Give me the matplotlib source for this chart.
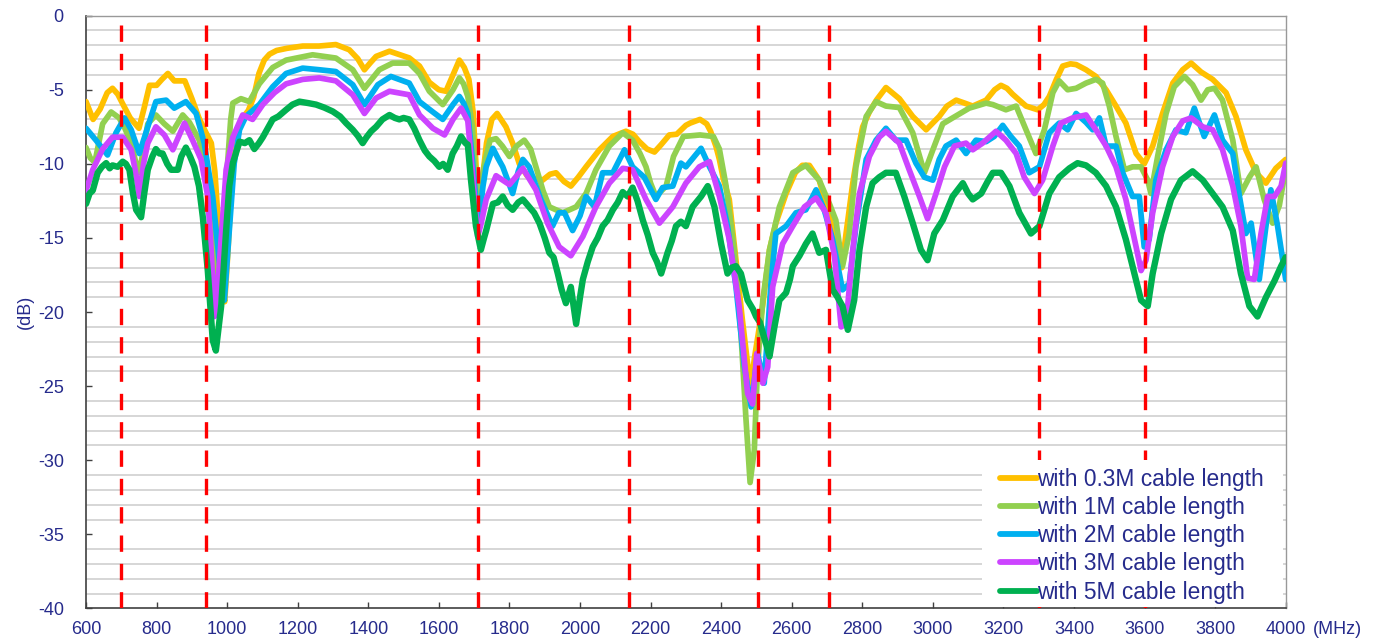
"""Return loss vs frequency for several cable lengths."""

import matplotlib

matplotlib.use("Agg")
import matplotlib.pyplot as plt
from matplotlib.patches import Rectangle

plt.rcParams["font.family"] = ["Liberation Sans", "DejaVu Sans"]
plt.rcParams["axes.unicode_minus"] = False

TEXT_COLOR = "#262B8C"

# band edges marked with red dashed lines (MHz)
BAND_EDGES = [698, 940, 1710, 2140, 2505, 2705, 3300, 3600]

LABELS = [
    "with 0.3M cable length",
    "with 1M cable length",
    "with 2M cable length",
    "with 3M cable length",
    "with 5M cable length",
]
COLORS = ["#FFC000", "#92D050", "#00B0F0", "#CC44FF", "#00B050"]

# 0.3 m cable
F_03 = [600, 620, 640, 660, 675, 690, 705, 725, 750, 765, 780, 800, 815, 832, 850, 880, 900, 920, 940, 955,
        965, 975, 985, 993, 1002, 1012, 1022, 1040, 1060, 1075, 1090, 1105, 1120, 1140, 1170, 1214, 1260, 1308,
        1346, 1370, 1389, 1405, 1422, 1460, 1516, 1545, 1573, 1600, 1620, 1640, 1658, 1672, 1685, 1697, 1705,
        1712, 1721, 1735, 1750, 1765, 1790, 1809, 1828, 1850, 1875, 1894, 1915, 1932, 1955, 1974, 1995, 2017,
        2055, 2093, 2130, 2150, 2168, 2190, 2211, 2230, 2253, 2274, 2300, 2312, 2340, 2359, 2370, 2385, 2395,
        2406, 2423, 2442, 2460, 2475, 2485, 2495, 2505, 2518, 2537, 2555, 2584, 2610, 2630, 2650, 2678, 2700,
        2715, 2730, 2742, 2754, 2773, 2790, 2801, 2820, 2840, 2867, 2905, 2943, 2981, 3018, 3040, 3066, 3090,
        3113, 3151, 3175, 3193, 3210, 3226, 3264, 3297, 3315, 3330, 3350, 3368, 3390, 3406, 3434, 3462, 3491,
        3519, 3547, 3576, 3599, 3623, 3651, 3680, 3708, 3732, 3760, 3793, 3831, 3859, 3887, 3916, 3944, 3972,
        4000]
DB_03 = [-5.8, -7.0, -6.3, -5.2, -4.9, -5.3, -6.0, -6.9, -7.6, -6.2, -4.7, -4.7, -4.3, -3.9, -4.4, -4.4, -5.6,
         -6.9, -7.9, -8.6, -10.5, -14.0, -18.5, -19.3, -16.0, -11.5, -8.8, -7.0, -6.4, -5.5, -3.9, -3.0, -2.6,
         -2.35, -2.2, -2.05, -2.05, -1.95, -2.3, -2.9, -3.65, -3.2, -2.75, -2.4, -2.85, -3.4, -4.5, -5.0, -5.1,
         -4.0, -3.0, -3.5, -4.3, -6.5, -10.0, -13.0, -11.5, -8.6, -7.0, -6.6, -7.5, -8.6, -10.0, -10.8, -11.0,
         -11.1, -10.7, -10.6, -11.2, -11.5, -10.9, -10.2, -9.05, -8.15, -7.8, -8.0, -8.5, -9.0, -9.2, -8.7,
         -8.05, -8.0, -7.4, -7.25, -7.0, -7.3, -7.8, -8.8, -9.7, -11.0, -12.4, -16.5, -20.5, -23.5, -24.8,
         -23.0, -21.5, -19.5, -15.8, -14.0, -12.0, -10.6, -10.1, -10.1, -11.1, -13.0, -14.3, -16.0, -17.0,
         -14.7, -11.3, -8.8, -7.5, -6.5, -5.7, -4.85, -5.6, -6.8, -7.7, -6.8, -6.1, -5.7, -5.9, -6.1, -5.7,
         -5.0, -4.7, -4.9, -5.3, -6.1, -6.35, -6.0, -5.45, -4.3, -3.4, -3.25, -3.3, -3.65, -4.1, -5.0, -6.1,
         -7.25, -9.3, -10.0, -8.8, -6.6, -4.55, -3.65, -3.2, -3.8, -4.3, -5.2, -6.8, -9.05, -10.6, -11.3,
         -10.3, -9.7]

# 1 m cable
F_1 = [600, 612, 625, 647, 671, 694, 710, 728, 740, 751, 763, 775, 798, 822, 846, 874, 893, 921, 940, 959,
       973, 982, 992, 1001, 1010, 1016, 1039, 1063, 1091, 1129, 1167, 1242, 1308, 1356, 1389, 1431, 1469, 1516,
       1545, 1573, 1611, 1640, 1658, 1670, 1682, 1695, 1703, 1712, 1722, 1734, 1745, 1762, 1780, 1800, 1820,
       1842, 1860, 1875, 1895, 1913, 1951, 1989, 2017, 2045, 2083, 2121, 2149, 2170, 2187, 2200, 2215, 2244,
       2265, 2293, 2340, 2378, 2395, 2414, 2437, 2456, 2470, 2482, 2494, 2503, 2518, 2537, 2565, 2603, 2640,
       2678, 2707, 2725, 2744, 2763, 2782, 2811, 2839, 2867, 2905, 2943, 2976, 3000, 3028, 3056, 3103, 3151,
       3170, 3207, 3236, 3264, 3292, 3316, 3340, 3358, 3382, 3406, 3434, 3462, 3481, 3500, 3519, 3543, 3566,
       3590, 3609, 3618, 3637, 3661, 3684, 3713, 3736, 3760, 3779, 3798, 3821, 3850, 3873, 3897, 3916, 3939,
       3963, 3982, 4000]
DB_1 = [-8.9, -9.6, -9.9, -7.3, -6.5, -6.9, -7.6, -8.6, -9.8, -10.6, -9.0, -7.3, -6.7, -7.3, -7.8, -6.7, -7.2,
        -8.4, -10.6, -14.5, -18.0, -18.8, -14.0, -10.0, -7.0, -5.9, -5.6, -5.8, -4.6, -3.5, -3.0, -2.64, -2.86,
        -3.65, -4.9, -3.65, -3.2, -3.2, -3.9, -5.1, -6.0, -5.0, -4.2, -4.6, -5.45, -7.5, -10.5, -13.5, -11.0,
        -9.5, -8.4, -8.3, -8.8, -9.5, -8.8, -8.4, -9.0, -10.2, -11.8, -12.9, -13.3, -12.9, -12.0, -10.4, -8.8,
        -7.9, -8.4, -9.3, -10.2, -11.3, -12.2, -11.5, -9.5, -8.15, -8.05, -8.15, -9.0, -11.5, -15.8, -21.4,
        -27.1, -31.5, -29.3, -23.7, -19.2, -15.8, -12.9, -10.6, -10.1, -11.1, -12.7, -13.8, -16.9, -14.7,
        -10.2, -6.8, -5.8, -6.1, -6.2, -7.9, -10.6, -9.05, -7.3, -6.9, -6.24, -5.9, -6.0, -6.35, -6.1, -7.7,
        -9.3, -7.7, -5.2, -4.4, -5.0, -4.9, -4.55, -4.3, -4.55, -6.1, -8.15, -10.4, -10.2, -10.2, -11.1, -12.0,
        -9.5, -6.6, -4.8, -4.1, -4.66, -5.7, -5.0, -4.9, -5.7, -8.4, -12.0, -10.9, -10.2, -12.4, -14.0, -12.8,
        -10.3]

# 2 m cable
F_2 = [600, 628, 661, 685, 709, 728, 751, 775, 798, 827, 850, 883, 912, 935, 959, 978, 992, 1006, 1020, 1035,
       1053, 1091, 1129, 1167, 1214, 1261, 1308, 1356, 1389, 1427, 1464, 1516, 1545, 1583, 1611, 1640, 1658,
       1670, 1682, 1696, 1705, 1713, 1725, 1734, 1753, 1767, 1781, 1809, 1825, 1838, 1856, 1889, 1922, 1940,
       1956, 1979, 2000, 2017, 2041, 2064, 2093, 2126, 2149, 2182, 2215, 2234, 2263, 2286, 2300, 2324, 2343,
       2367, 2395, 2418, 2442, 2466, 2485, 2503, 2522, 2541, 2555, 2584, 2612, 2640, 2669, 2692, 2716, 2744,
       2763, 2782, 2811, 2839, 2867, 2895, 2924, 2952, 2976, 3000, 3018, 3037, 3066, 3094, 3122, 3151, 3174,
       3198, 3221, 3245, 3273, 3302, 3330, 3358, 3382, 3406, 3434, 3453, 3472, 3491, 3519, 3538, 3566, 3585,
       3599, 3613, 3632, 3661, 3689, 3717, 3741, 3769, 3798, 3821, 3850, 3869, 3887, 3902, 3925, 3944, 3958,
       3977, 4000]
DB_2 = [-7.6, -8.4, -9.4, -7.9, -6.9, -7.7, -9.3, -7.5, -5.8, -5.7, -6.24, -5.8, -6.6, -8.6, -12.2, -16.7,
        -19.2, -14.5, -9.95, -7.7, -6.8, -6.0, -4.8, -3.9, -3.54, -3.65, -3.77, -4.66, -6.0, -4.66, -4.1,
        -4.55, -5.8, -6.5, -7.0, -6.0, -5.45, -5.9, -6.6, -9.95, -12.5, -14.0, -11.5, -10.2, -8.95, -9.6,
        -10.2, -12.0, -10.5, -9.7, -10.2, -12.4, -14.2, -13.3, -13.3, -14.5, -13.5, -12.2, -12.9, -10.6, -10.6,
        -9.05, -10.2, -10.9, -12.4, -11.6, -11.5, -9.95, -10.2, -9.5, -8.95, -10.2, -11.5, -14.2, -18.3, -23.7,
        -26.4, -22.8, -24.8, -18.1, -14.7, -14.2, -13.3, -13.1, -11.75, -13.1, -15.1, -18.5, -18.1, -14.2,
        -9.7, -8.4, -7.6, -8.4, -8.4, -9.95, -10.9, -11.1, -9.7, -8.8, -8.4, -9.3, -8.4, -8.5, -8.15, -7.4,
        -8.15, -8.8, -10.6, -10.2, -7.9, -7.25, -7.7, -6.6, -7.2, -7.7, -6.9, -8.8, -8.8, -10.6, -12.2, -12.2,
        -15.6, -15.1, -11.1, -9.05, -7.7, -7.9, -6.24, -8.15, -6.7, -8.4, -9.3, -12.2, -14.7, -14.0, -17.8,
        -14.2, -11.75, -14.2, -17.8]

# 3 m cable
F_3 = [600, 619, 647, 675, 704, 728, 740, 751, 763, 775, 798, 822, 846, 879, 902, 926, 945, 955, 964, 978,
       997, 1016, 1044, 1072, 1101, 1134, 1167, 1214, 1261, 1308, 1356, 1389, 1422, 1460, 1516, 1545, 1583,
       1616, 1640, 1663, 1682, 1701, 1710, 1720, 1734, 1762, 1800, 1838, 1875, 1908, 1941, 1974, 2008, 2045,
       2083, 2121, 2149, 2187, 2225, 2263, 2300, 2338, 2367, 2395, 2423, 2451, 2475, 2489, 2501, 2518, 2532,
       2546, 2574, 2603, 2636, 2669, 2697, 2721, 2740, 2754, 2773, 2792, 2820, 2848, 2867, 2905, 2933, 2962,
       2985, 3009, 3033, 3061, 3094, 3113, 3141, 3179, 3207, 3236, 3259, 3288, 3311, 3340, 3363, 3396, 3434,
       3462, 3491, 3519, 3547, 3576, 3590, 3604, 3623, 3651, 3680, 3708, 3732, 3765, 3793, 3821, 3850, 3873,
       3892, 3911, 3930, 3949, 3968, 3987, 4000]
DB_3 = [-11.8, -10.4, -9.0, -8.2, -8.2, -9.05, -10.5, -12.2, -10.0, -8.6, -7.5, -8.05, -9.05, -7.25, -8.4,
        -9.7, -12.2, -16.0, -20.3, -16.7, -10.4, -8.2, -6.7, -7.0, -6.0, -5.2, -4.6, -4.3, -4.2, -4.4, -5.34,
        -6.6, -5.56, -5.1, -5.34, -6.7, -7.6, -8.05, -7.0, -6.24, -7.1, -12.2, -14.9, -14.0, -12.4, -10.8,
        -11.4, -10.3, -11.75, -14.0, -15.6, -16.2, -14.9, -12.9, -11.3, -10.3, -10.4, -12.4, -14.0, -12.9,
        -11.3, -10.2, -9.85, -12.2, -15.1, -19.6, -25.5, -26.2, -22.8, -24.8, -23.7, -18.3, -15.4, -14.2,
        -12.9, -12.3, -13.3, -16.2, -21.0, -20.8, -15.8, -12.0, -9.5, -8.2, -7.8, -8.6, -10.4, -12.2, -13.7,
        -12.0, -10.2, -8.8, -8.6, -9.05, -8.6, -7.8, -8.4, -9.3, -10.9, -12.0, -11.1, -8.8, -7.25, -6.9, -6.7,
        -7.7, -8.8, -10.2, -12.4, -15.6, -17.2, -16.5, -13.3, -10.2, -8.15, -7.1, -6.9, -7.5, -7.7, -9.05,
        -11.5, -14.2, -17.7, -17.8, -14.7, -12.2, -12.2, -11.5, -9.95]

# 5 m cable
F_5 = [600, 610, 619, 633, 645, 657, 667, 675, 690, 704, 713, 723, 733, 742, 756, 765, 775, 788, 798, 808,
       817, 830, 841, 860, 870, 883, 895, 907, 920, 931, 945, 959, 968, 983, 997, 1006, 1016, 1035, 1050,
       1063, 1077, 1090, 1101, 1115, 1129, 1145, 1167, 1185, 1205, 1230, 1252, 1275, 1299, 1320, 1337, 1356,
       1370, 1384, 1395, 1408, 1422, 1440, 1460, 1475, 1488, 1500, 1516, 1530, 1545, 1560, 1573, 1587, 1601,
       1612, 1625, 1639, 1651, 1663, 1675, 1682, 1691, 1705, 1719, 1728, 1734, 1753, 1767, 1781, 1795, 1809,
       1825, 1838, 1856, 1870, 1885, 1900, 1913, 1925, 1937, 1948, 1960, 1974, 1989, 2000, 2008, 2022, 2036,
       2050, 2064, 2078, 2093, 2107, 2121, 2135, 2149, 2163, 2178, 2192, 2206, 2218, 2230, 2248, 2260, 2272,
       2286, 2300, 2319, 2343, 2362, 2381, 2400, 2418, 2430, 2442, 2456, 2475, 2490, 2499, 2510, 2518, 2528,
       2537, 2551, 2565, 2584, 2595, 2603, 2622, 2640, 2659, 2678, 2697, 2716, 2730, 2744, 2759, 2777, 2792,
       2811, 2829, 2848, 2867, 2895, 2919, 2943, 2966, 2985, 3004, 3028, 3056, 3085, 3100, 3113, 3137, 3155,
       3170, 3193, 3217, 3245, 3278, 3302, 3330, 3358, 3387, 3410, 3434, 3462, 3491, 3519, 3547, 3571, 3590,
       3609, 3623, 3647, 3675, 3703, 3736, 3765, 3793, 3821, 3850, 3873, 3897, 3920, 3944, 3968, 3987, 4000]
DB_5 = [-12.7, -12.0, -11.8, -10.6, -10.2, -9.95, -10.3, -10.1, -10.2, -9.85, -10.0, -10.4, -12.0, -13.1,
        -13.6, -12.0, -10.4, -9.5, -9.0, -9.3, -9.3, -10.0, -10.4, -10.4, -9.5, -8.9, -9.5, -10.2, -11.5,
        -13.6, -17.2, -21.9, -22.6, -19.6, -14.5, -11.5, -9.95, -8.5, -8.6, -8.4, -9.0, -8.6, -8.2, -7.6,
        -7.0, -6.8, -6.35, -6.0, -5.8, -5.9, -6.0, -6.2, -6.46, -6.8, -7.25, -7.7, -8.1, -8.6, -8.2, -7.8,
        -7.5, -7.0, -6.7, -6.9, -7.0, -6.9, -7.0, -7.6, -8.4, -9.1, -9.5, -9.8, -10.2, -10.0, -10.4, -9.3,
        -8.8, -8.15, -8.6, -8.7, -11.1, -14.2, -15.8, -15.0, -14.5, -12.7, -12.6, -12.2, -12.8, -13.1, -12.6,
        -12.4, -12.9, -13.3, -14.0, -15.0, -16.0, -16.3, -17.4, -18.5, -19.4, -18.3, -20.8, -19.0, -17.8,
        -16.6, -15.6, -15.0, -14.2, -13.8, -13.1, -12.6, -11.9, -12.2, -11.6, -12.5, -13.8, -14.8, -16.0,
        -16.6, -17.4, -16.0, -15.2, -14.2, -13.9, -14.2, -12.9, -12.2, -11.5, -12.9, -15.4, -17.4, -17.0,
        -16.9, -17.4, -19.2, -19.8, -20.3, -20.7, -21.4, -22.2, -23.0, -21.0, -19.2, -18.7, -17.8, -16.9,
        -16.2, -15.4, -14.7, -16.0, -15.8, -18.5, -19.0, -19.6, -21.2, -19.2, -15.8, -12.9, -11.3, -10.9,
        -10.6, -10.6, -12.2, -14.0, -15.8, -16.5, -14.7, -13.8, -12.2, -11.3, -12.0, -12.4, -12.0, -11.2,
        -10.6, -10.6, -11.5, -13.3, -14.7, -14.2, -12.0, -10.9, -10.3, -9.95, -10.1, -10.6, -11.5, -12.9,
        -15.1, -17.4, -19.2, -19.6, -17.4, -14.7, -12.4, -11.1, -10.5, -11.1, -12.0, -12.9, -14.5, -17.4,
        -19.6, -20.3, -19.0, -17.9, -16.9, -16.3]

X_TICKS = list(range(600, 4001, 200))
Y_TICKS = list(range(-40, 1, 5))


def main() -> None:
    fig = plt.figure(figsize=(13.81, 6.42), dpi=100)
    ax = fig.add_axes([0.0623, 0.0522, 0.8687, 0.9234])

    series = [(F_03, DB_03), (F_1, DB_1), (F_2, DB_2), (F_3, DB_3), (F_5, DB_5)]
    for (freq, db), label, color in zip(series, LABELS, COLORS):
        lw = 4.6 if color == "#00B050" else 4.1
        ax.plot(freq, db, color=color, lw=lw, label=label,
                solid_joinstyle="round", solid_capstyle="round", zorder=3)

    for f in BAND_EDGES:
        ax.plot([f, f], [-40, -0.4], color="#FF0000", lw=2.4,
                linestyle=(0, (4.9, 3.6)), zorder=4)

    ax.set_xlim(600, 4000)
    ax.set_ylim(-40, 0)
    ax.set_xticks(X_TICKS)
    ax.set_yticks(Y_TICKS)
    ax.set_xticks(range(600, 4001, 200), minor=True)
    ax.set_yticks(range(-40, 1, 1), minor=True)
    ax.grid(which="minor", color="#CFCFCF", lw=1.2, zorder=0)
    ax.set_axisbelow(True)

    ax.tick_params(which="major", direction="in", length=4, width=1, color="#404040",
                   labelsize=13, labelcolor=TEXT_COLOR)
    ax.tick_params(axis="y", which="major", pad=16)
    ax.tick_params(axis="x", which="major", pad=9)
    ax.tick_params(which="minor", length=0)

    for side in ("left", "bottom"):
        ax.spines[side].set_color("#404040")
        ax.spines[side].set_linewidth(1.2)
    for side in ("top", "right"):
        ax.spines[side].set_color("#999999")
        ax.spines[side].set_linewidth(1.0)

    ax.set_ylabel("(dB)", fontsize=13, color=TEXT_COLOR, labelpad=3)
    fig.text(1313 / 1381, 1 - 629 / 642, "(MHz)", fontsize=13, color=TEXT_COLOR,
             ha="left", va="center")

    # white panel behind the legend, hiding grid and band-edge lines
    ax.add_patch(Rectangle((0.7469, 0.0025), 0.2508, 0.248, transform=ax.transAxes,
                           facecolor="white", edgecolor="none", zorder=5))

    leg = ax.legend(loc="upper left", bbox_to_anchor=(0.7618, 0.2375), borderaxespad=0,
                    fontsize=16.4, handlelength=1.62, handletextpad=0.0, labelspacing=0.23,
                    borderpad=0, frameon=False)
    leg.set_zorder(6)
    for text in leg.get_texts():
        text.set_color(TEXT_COLOR)
    for line in leg.get_lines():
        line.set_linewidth(4.2)
        line.set_solid_capstyle("round")

    fig.savefig("out.png", dpi=100)


if __name__ == "__main__":
    main()
